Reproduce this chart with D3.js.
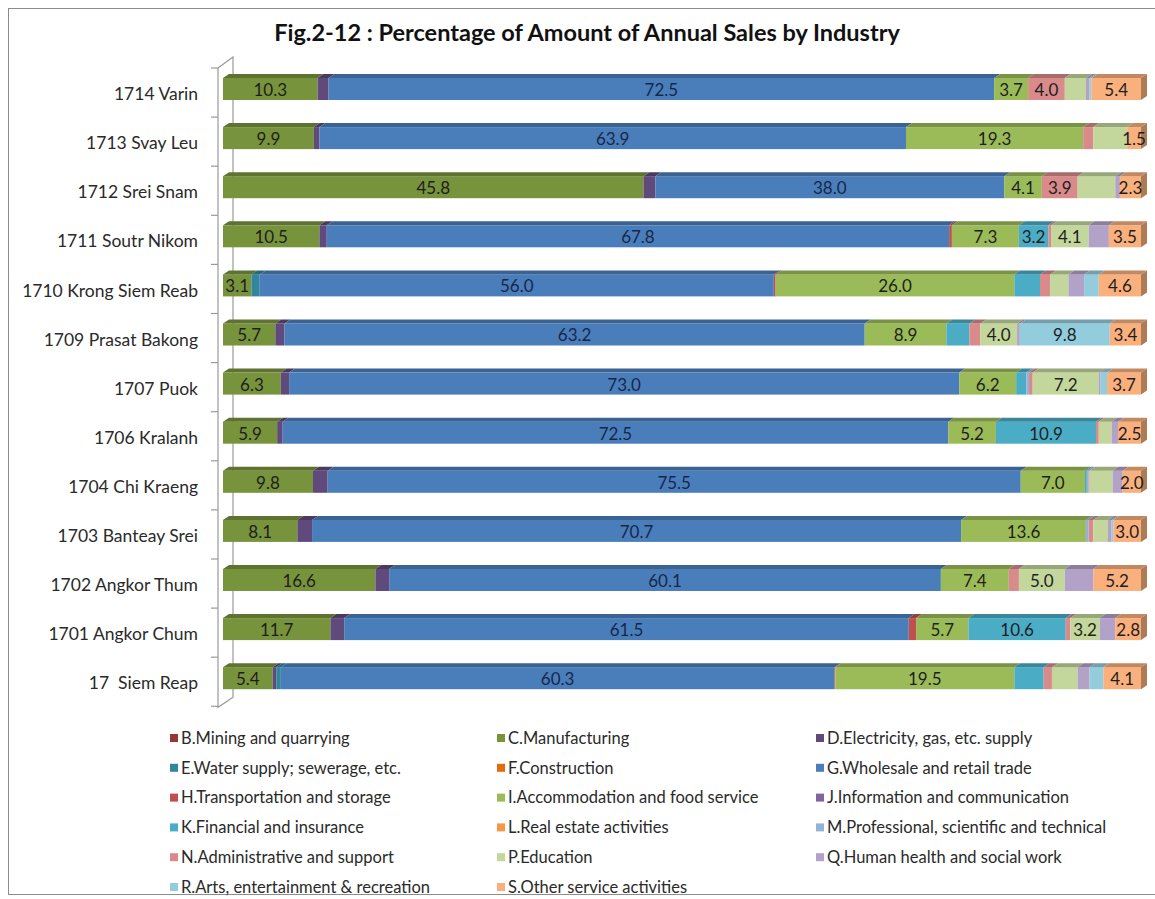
<!DOCTYPE html>
<html>
<head>
<meta charset="utf-8">
<script src="https://cdn.jsdelivr.net/npm/d3@7"></script>
<style>
    body { margin: 0; background: #fff; }
    svg text { font-family: Lato, "Open Sans", sans-serif; white-space: pre; }
</style>
</head>
<body>
<div id="chart"></div>
<script>
// districts, top to bottom
var districts = ["1714 Varin", "1713 Svay Leu", "1712 Srei Snam", "1711 Soutr Nikom", "1710 Krong Siem Reab",
    "1709 Prasat Bakong", "1707 Puok", "1706 Kralanh", "1704 Chi Kraeng", "1703 Banteay Srei",
    "1702 Angkor Thum", "1701 Angkor Chum", "17  Siem Reap"];

var industryKeys = ["B", "C", "D", "E", "F", "G", "H", "I", "J", "K", "L", "M", "N", "P", "Q", "R", "S"];
var industryNames = ["B.Mining and quarrying", "C.Manufacturing", "D.Electricity, gas, etc. supply",
    "E.Water supply; sewerage, etc.", "F.Construction", "G.Wholesale and retail trade",
    "H.Transportation and storage", "I.Accommodation and food service", "J.Information and communication",
    "K.Financial and insurance", "L.Real estate activities", "M.Professional, scientific and technical",
    "N.Administrative and support", "P.Education", "Q.Human health and social work",
    "R.Arts, entertainment & recreation", "S.Other service activities"];

// share of annual sales (%), one array per industry, in district order
var mining        = [0, 0, 0, 0, 0, 0, 0, 0, 0, 0, 0, 0, 0];
var manufacturing = [10.3, 9.9, 45.8, 10.5, 3.1, 5.7, 6.3, 5.9, 9.8, 8.1, 16.6, 11.7, 5.4];
var electricity   = [1.2, 0.6, 1.3, 0.8, 0, 1.0, 0.9, 0.6, 1.6, 1.6, 1.5, 1.5, 0.4];
var water         = [0, 0, 0, 0, 0.9, 0, 0, 0, 0, 0, 0, 0, 0.5];
var construction  = [0, 0, 0, 0, 0, 0, 0, 0, 0, 0, 0, 0, 0];
var wholesale     = [72.5, 63.9, 38.0, 67.8, 56.0, 63.2, 73.0, 72.5, 75.5, 70.7, 60.1, 61.5, 60.3];
var transport     = [0, 0, 0, 0.3, 0.2, 0, 0, 0, 0, 0, 0, 0.8, 0.1];
var accommodation = [3.7, 19.3, 4.1, 7.3, 26.0, 8.9, 6.2, 5.2, 7.0, 13.6, 7.4, 5.7, 19.5];
var information   = [0, 0, 0, 0, 0, 0, 0, 0, 0, 0, 0, 0, 0];
var financial     = [0, 0, 0, 3.2, 2.8, 2.5, 1.1, 10.9, 0.2, 0, 0, 10.6, 3.2];
var realEstate    = [0, 0, 0, 0, 0, 0, 0, 0, 0, 0, 0, 0, 0];
var professional  = [0, 0, 0, 0, 0, 0, 0.3, 0, 0.2, 0.3, 0, 0, 0];
var administrative= [4.0, 1.1, 3.9, 0.3, 1.1, 1.2, 0.4, 0.3, 0.1, 0.5, 1.1, 0.5, 0.9];
var education     = [2.3, 3.7, 4.1, 4.1, 2.0, 4.0, 7.2, 1.4, 2.5, 1.6, 5.0, 3.2, 2.8];
var health        = [0.4, 0, 0.5, 2.2, 1.7, 0.3, 0.2, 0.7, 1.1, 0.4, 3.1, 1.7, 1.3];
var arts          = [0.2, 0, 0, 0, 1.6, 9.8, 0.7, 0, 0, 0.2, 0, 0, 1.5];
var otherService  = [5.4, 1.5, 2.3, 3.5, 4.6, 3.4, 3.7, 2.5, 2.0, 3.0, 5.2, 2.8, 4.1];

var seriesValues = [mining, manufacturing, electricity, water, construction, wholesale, transport,
    accommodation, information, financial, realEstate, professional, administrative, education,
    health, arts, otherService];

// segments the original chart leaves without a label
var hiddenLabels = [["1713 Svay Leu", "P"], ["1712 Srei Snam", "P"], ["1702 Angkor Thum", "Q"], ["17  Siem Reap", "K"]];

var colors = ["#953735", "#77933C", "#604A7B", "#31859C", "#E46C0A", "#4A7EBB", "#C0504D", "#9BBB59",
    "#8064A2", "#4BACC6", "#F79646", "#95B3D7", "#D98A8A", "#C3D69B", "#B3A2C7", "#93CDDD", "#F9B07C"];

var W = 1155, H = 899;
var depthX = 6, depthY = 4, faceH = 22;

var svg = d3.select("#chart").append("svg")
    .attr("width", W)
    .attr("height", H);

svg.append("rect")
    .attr("x", 8.5).attr("y", 8.5)
    .attr("width", 1170).attr("height", 886)
    .attr("fill", "#fff")
    .attr("stroke", "#8c8c8c");

svg.append("text")
    .attr("x", 587)
    .attr("y", 41)
    .attr("text-anchor", "middle")
    .style("font-size", "23.5px")
    .style("font-weight", "bold")
    .attr("fill", "#111")
    .text("Fig.2-12 : Percentage of Amount of Annual Sales by Industry");

var rows = districts.map(function (d, i) {
    var r = { district: d };
    industryKeys.forEach(function (k, j) { r[k] = seriesValues[j][i]; });
    return r;
});

var stacked = d3.stack().keys(industryKeys)(rows);

var x = d3.scaleLinear().domain([0, 100]).range([223, 1141]);
var y = d3.scaleBand().domain(districts).range([63, 63 + 13 * 49.1]);
var color = d3.scaleOrdinal().domain(industryKeys).range(colors);

// 3d wall of the category axis
var wall = svg.append("g").attr("stroke", "#9a9a9a").attr("fill", "none").attr("stroke-width", 1.2);
var yTop = y.range()[0] + 5, yBot = y.range()[1] + 6;
wall.append("path").attr("d", "M218," + yTop + "L233," + (yTop - 11) + "L233," + (yBot - 10));
wall.append("path").attr("d", "M218," + yTop + "L218," + yBot + "L233," + (yBot - 10));
d3.range(0, districts.length + 1).forEach(function (i) {
    var ty = y.range()[0] + i * y.step() + 5;
    wall.append("line").attr("x1", 211).attr("x2", 218).attr("y1", ty).attr("y2", ty);
});

svg.append("g").selectAll("text")
    .data(districts)
    .enter()
    .append("text")
    .attr("x", 198)
    .attr("y", function (d) { return y(d) + 31; })
    .attr("dy", "0.35em")
    .attr("text-anchor", "end")
    .style("font-size", "17.5px")
    .attr("fill", "#2a2a2a")
    .text(function (d) { return d; });

// bars
var bars = svg.append("g");
stacked.forEach(function (layer) {
    var c = color(layer.key);
    layer.forEach(function (seg) {
        var v = seg[1] - seg[0];
        if (v <= 0) return;
        var x0 = x(seg[0]), x1 = x(seg[1]);
        var top = y(seg.data.district) + 15;
        bars.append("rect")
            .attr("x", x0).attr("y", top)
            .attr("width", x1 - x0).attr("height", faceH)
            .attr("fill", c);
        bars.append("path")
            .attr("d", "M" + x0 + "," + top + "L" + x1 + "," + top + "L" + (x1 + depthX) + "," + (top - depthY) +
                "L" + (x0 + depthX) + "," + (top - depthY) + "Z")
            .attr("fill", d3.color(c).darker(0.7));
    });
});

// right end face of each bar
var lastLayer = stacked[stacked.length - 1];
lastLayer.forEach(function (seg) {
    var xe = x(seg[1]);
    var top = y(seg.data.district) + 15;
    bars.append("path")
        .attr("d", "M" + xe + "," + top + "L" + (xe + depthX) + "," + (top - depthY) + "L" + (xe + depthX) + "," +
            (top + faceH - depthY) + "L" + xe + "," + (top + faceH) + "Z")
        .attr("fill", d3.color(color(lastLayer.key)).darker(1.0));
});

// data labels
function isHidden(district, key) {
    return hiddenLabels.some(function (h) { return h[0] === district && h[1] === key; });
}
var labels = svg.append("g");
stacked.forEach(function (layer) {
    layer.forEach(function (seg) {
        var v = seg[1] - seg[0];
        if (v <= 0) return;
        var show = (layer.key === "S") || (v >= 3 && !isHidden(seg.data.district, layer.key));
        if (!show) return;
        labels.append("text")
            .attr("x", (x(seg[0]) + x(seg[1])) / 2)
            .attr("y", y(seg.data.district) + 15 + faceH / 2 + 1)
            .attr("dy", "0.35em")
            .attr("text-anchor", "middle")
            .style("font-size", "17px")
            .attr("fill", layer.key === "G" ? "#16284a" : "#1e1e1e")
            .text(d3.format(".1f")(v));
    });
});

// legend, three columns
var legend = svg.append("g");
var colX = [170, 497, 816];
industryKeys.forEach(function (k, i) {
    var lx = colX[i % 3], ly = 738 + Math.floor(i / 3) * 29.8;
    legend.append("rect")
        .attr("x", lx).attr("y", ly - 4)
        .attr("width", 8).attr("height", 8)
        .attr("fill", color(k));
    legend.append("text")
        .attr("x", lx + 11).attr("y", ly)
        .attr("dy", "0.35em")
        .style("font-size", "16.5px")
        .attr("fill", "#2a2a2a")
        .text(industryNames[i]);
});
</script>
</body>
</html>
